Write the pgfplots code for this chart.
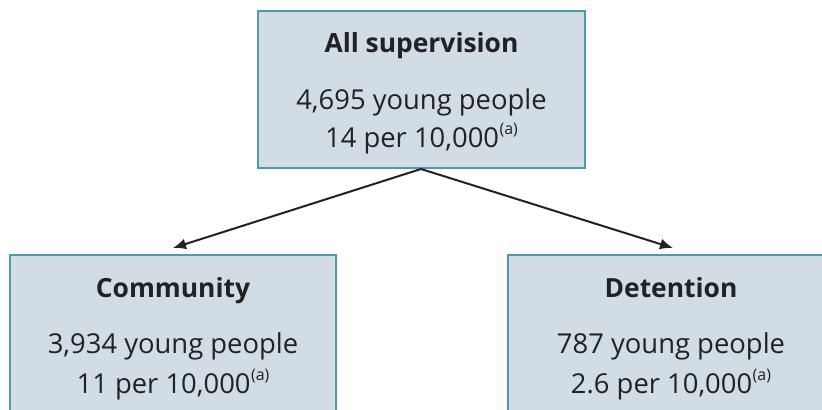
\documentclass[border=0pt]{standalone}
\usepackage{fontspec}
\setmainfont{Open Sans}
\usepackage{pgfplots}
\pgfplotsset{compat=1.18}
\usetikzlibrary{arrows.meta}
\definecolor{boxfill}{HTML}{D1DCE5}
\definecolor{boxedge}{HTML}{4E9BB0}
\definecolor{txt}{HTML}{222222}
\newcommand{\supa}{\kern0.5bp\raisebox{0.45em}{\fontsize{16}{16}\selectfont(a)}}
\newcommand{\bodyfont}{\fontsize{27.5}{30}\selectfont}
\newcommand{\titlefont}{\fontsize{26.5}{30}\selectfont\bfseries}
\begin{document}
\begin{tikzpicture}
\begin{axis}[
  width=822bp, height=410bp, scale only axis,
  xmin=0, xmax=822, ymin=0, ymax=410, y dir=reverse,
  axis lines=none, clip=true,
]
% boxes
\addplot[fill=boxfill, draw=boxedge, line width=1.4bp] coordinates {(258,11) (585,11) (585,168) (258,168)} -- cycle;
\addplot[fill=boxfill, draw=boxedge, line width=1.4bp] coordinates {(10,255) (336,255) (336,430) (10,430)} -- cycle;
\addplot[fill=boxfill, draw=boxedge, line width=1.4bp] coordinates {(508,255) (840,255) (840,430) (508,430)} -- cycle;
% arrows
\addplot[txt, line width=2bp, -{Latex[length=13bp,width=11bp]}] coordinates {(421,169) (173,248)};
\addplot[txt, line width=2bp, -{Latex[length=13bp,width=11bp]}] coordinates {(421,169) (673,248)};
% text
\node[text=txt, anchor=base, font=\titlefont] at (axis cs:421.5,52) {All supervision};
\node[text=txt, anchor=base, font=\bodyfont] at (axis cs:421.5,109) {4,695 young people};
\node[text=txt, anchor=base, font=\bodyfont] at (axis cs:421.5,147) {14 per 10,000\supa};
\node[text=txt, anchor=base, font=\titlefont] at (axis cs:173,297) {Community};
\node[text=txt, anchor=base, font=\bodyfont] at (axis cs:173,353) {3,934 young people};
\node[text=txt, anchor=base, font=\bodyfont] at (axis cs:173,393) {11 per 10,000\supa};
\node[text=txt, anchor=base, font=\titlefont] at (axis cs:671,297) {Detention};
\node[text=txt, anchor=base, font=\bodyfont] at (axis cs:671,353) {787 young people};
\node[text=txt, anchor=base, font=\bodyfont] at (axis cs:671,393) {2.6 per 10,000\supa};
\end{axis}
\pgfresetboundingbox
\path (current axis.south west) rectangle (current axis.north east);
\end{tikzpicture}
\end{document}
